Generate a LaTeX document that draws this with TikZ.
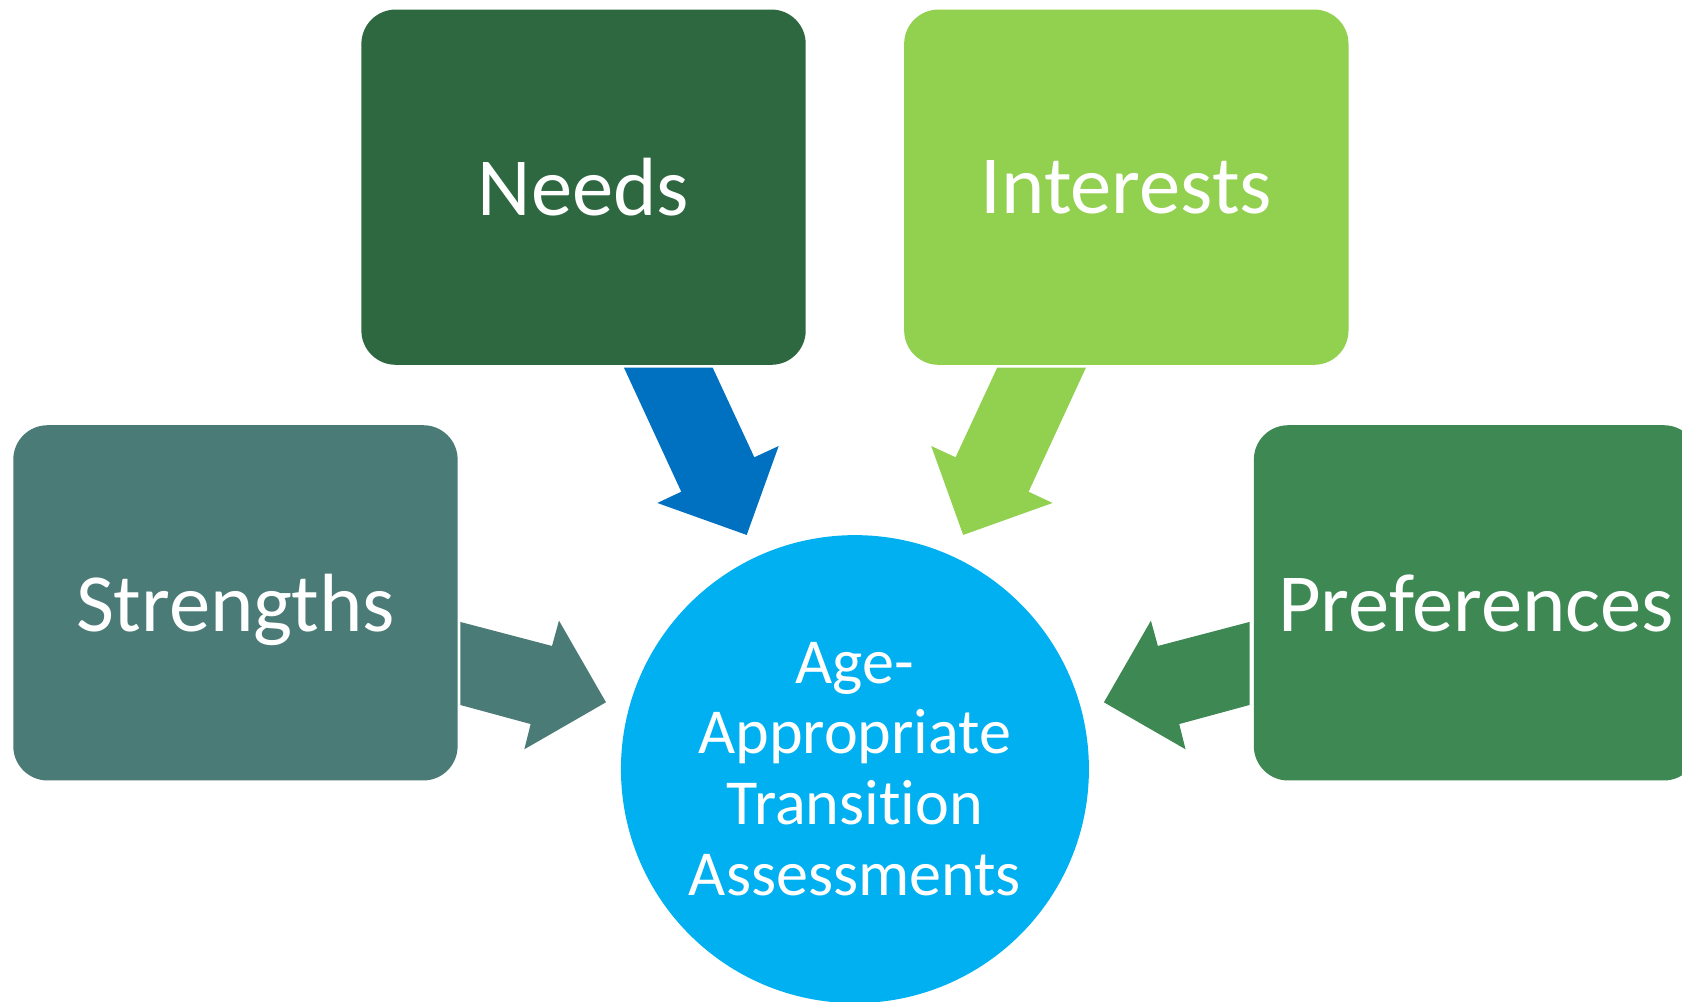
\documentclass[tikz,border=0pt]{standalone}
\usepackage{fontspec}
\setmainfont[Ligatures={NoCommon}]{Carlito}
\usepackage{tikz}

\definecolor{needscol}{HTML}{2E6841}
\definecolor{interestcol}{HTML}{92D050}
\definecolor{strengthcol}{HTML}{4A7B76}
\definecolor{prefcol}{HTML}{3E8853}
\definecolor{centercol}{HTML}{00B0F0}
\definecolor{needsarrow}{HTML}{0070C0}

\begin{document}
\begin{tikzpicture}[x=0.01cm,y=-0.01cm,
	box/.style={rounded corners=0.32cm,minimum width=4.14cm,minimum height=3.31cm,inner sep=0pt,text depth=0pt,text=white,font=\fontsize{21.9}{26}\selectfont},
	hub/.style={circle,minimum size=4.36cm,inner sep=0pt,text=white,align=center,font=\fontsize{17}{18.8}\selectfont}]
		\useasboundingbox (0,0) rectangle (1568,934);
		
		\node[box,fill=needscol] (Needs) at (544,174.5) {Needs};
		\node[box,fill=interestcol] (Int) at (1050,174.5) {Interests};
		\node[box,fill=strengthcol] (Str) at (219.5,562) {Strengths};
		\node[box,fill=prefcol] (Pref) at (1376,562) {Preferences};
		\node[hub,fill=centercol] (Hub) at (797,717) {Age-\\Appropriate\\Transition\\Assessments};
		
		% arrow from Needs
		\coordinate (A1) at (581.7,342.8);
		\coordinate (A2) at (664.4,342.8);
		\coordinate (A3) at (703.2,426.3);
		\coordinate (A4) at (725.9,415.8);
		\coordinate (A5) at (696.1,498.7);
		\coordinate (A6) at (612.8,468.9);
		\coordinate (A7) at (635.1,458.4);
		\fill[needsarrow] (A1)--(A2)--(A3)--(A4)--(A5)--(A6)--(A7)--cycle;
		
		% arrow from Interests
		\coordinate (B1) at (1012.3,342.8);
		\coordinate (B2) at (929.6,342.8);
		\coordinate (B3) at (890.8,426.3);
		\coordinate (B4) at (868.1,415.8);
		\coordinate (B5) at (897.9,498.7);
		\coordinate (B6) at (981.2,468.9);
		\coordinate (B7) at (958.9,458.4);
		\fill[interestcol] (B1)--(B2)--(B3)--(B4)--(B5)--(B6)--(B7)--cycle;
		
		% arrow from Strengths
		\coordinate (C1) at (429.1,579.8);
		\coordinate (C2) at (429.1,657.2);
		\coordinate (C3) at (494.7,675);
		\coordinate (C4) at (488.8,698.5);
		\coordinate (C5) at (564.9,654.7);
		\coordinate (C6) at (521.1,578.6);
		\coordinate (C7) at (514.6,602.2);
		\fill[strengthcol] (C1)--(C2)--(C3)--(C4)--(C5)--(C6)--(C7)--cycle;
		
		% arrow from Preferences
		\coordinate (D1) at (1164.9,579.8);
		\coordinate (D2) at (1164.9,657.2);
		\coordinate (D3) at (1099.3,675);
		\coordinate (D4) at (1105.2,698.5);
		\coordinate (D5) at (1029.1,654.7);
		\coordinate (D6) at (1072.9,578.6);
		\coordinate (D7) at (1079.4,602.2);
		\fill[prefcol] (D1)--(D2)--(D3)--(D4)--(D5)--(D6)--(D7)--cycle;
		\end{tikzpicture}
\end{document}
